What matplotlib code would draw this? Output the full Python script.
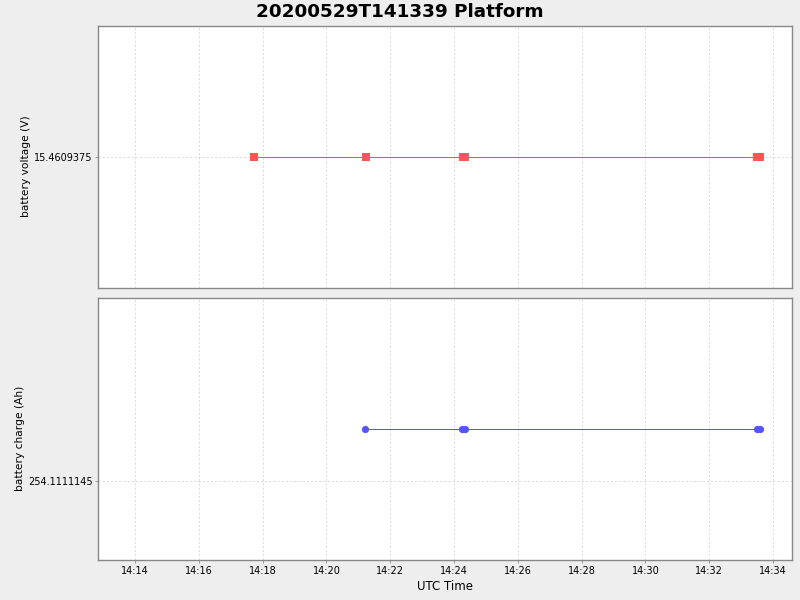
import matplotlib
matplotlib.use("Agg")
import matplotlib.pyplot as plt
import matplotlib.dates as mdates
from matplotlib.ticker import FixedLocator, FixedFormatter
from datetime import datetime

title = "20200529T141339 Platform"

voltage_times = ["14:17:44", "14:21:14", "14:24:17", "14:24:21", "14:33:30", "14:33:36"]
voltage_values = [15.4609375, 15.4609375, 15.4609375, 15.4609375, 15.4609375, 15.4609375]

charge_times = ["14:21:13", "14:24:15", "14:24:21", "14:33:30", "14:33:36"]
charge_values = [254.11111454, 254.11111454, 254.11111454, 254.11111454, 254.11111454]

voltage_ticks = [15.4609375]
voltage_tick_labels = ["15.4609375"]
charge_ticks = [254.1111145]
charge_tick_labels = ["254.1111145"]

x_tick_labels = ["14:14", "14:16", "14:18", "14:20", "14:22", "14:24", "14:26",
                 "14:28", "14:30", "14:32", "14:34"]
x_start, x_end = "14:12:50", "14:34:36"


def t(s):
    fmt = "%H:%M:%S" if s.count(":") == 2 else "%H:%M"
    tt = datetime.strptime(s, fmt)
    return datetime(2020, 5, 29, tt.hour, tt.minute, tt.second)


bg = "#EEEEEE"
fig = plt.figure(figsize=(8, 6), dpi=100, facecolor=bg)
ax1 = fig.add_axes([0.1225, 0.52, 0.8675, 0.4367])
ax2 = fig.add_axes([0.1225, 0.0667, 0.8675, 0.4367])

xt = [mdates.date2num(t(s)) for s in x_tick_labels]

for ax in (ax1, ax2):
    ax.set_facecolor("white")
    for sp in ax.spines.values():
        sp.set_color("#888888")
        sp.set_linewidth(1.0)
    ax.set_xlim(t(x_start), t(x_end))
    ax.xaxis.set_major_locator(FixedLocator(xt))
    ax.grid(True, color="#D4D4D4", linestyle=(0, (2.5, 2.5)), linewidth=0.6)
    ax.set_axisbelow(True)
    ax.tick_params(axis="both", length=2, width=0.6, color="#888888",
                   labelsize=7, pad=2)

ax1.xaxis.set_major_formatter(FixedFormatter([""] * len(xt)))
ax1.tick_params(axis="x", length=0)
ax2.xaxis.set_major_formatter(FixedFormatter(x_tick_labels))

vt = [t(s) for s in voltage_times]
ax1.plot(vt, voltage_values, color="#E05555", linewidth=0.7, zorder=2)
ax1.plot(vt, voltage_values, linestyle="none", marker="s", markersize=5.8,
         markerfacecolor="#FF5555", markeredgewidth=0, zorder=3)
v0 = voltage_values[0]
ax1.set_ylim(v0 - 1e-6, v0 + 1e-6)
ax1.yaxis.set_major_locator(FixedLocator(voltage_ticks))
ax1.yaxis.set_major_formatter(FixedFormatter(voltage_tick_labels))
ax1.set_ylabel("battery voltage (V)", fontsize=7.7, labelpad=2)
ax1.yaxis.label.set_y(0.466)

ct = [t(s) for s in charge_times]
ax2.plot(ct, charge_values, color="#5555E0", linewidth=0.7, zorder=2)
ax2.plot(ct, charge_values, linestyle="none", marker="o", markersize=5.2,
         markerfacecolor="#5555FF", markeredgewidth=0, zorder=3)
c0 = charge_values[0]
ax2.set_ylim(c0 - 1e-7, c0 + 1e-7)
ax2.yaxis.set_major_locator(FixedLocator(charge_ticks))
ax2.yaxis.set_major_formatter(FixedFormatter(charge_tick_labels))
ax2.set_ylabel("battery charge (Ah)", fontsize=7.7, labelpad=2)
ax2.yaxis.label.set_y(0.466)
ax2.set_xlabel("UTC Time", fontsize=8.5, labelpad=3)

fig.text(0.5, 0.98, title, ha="center", va="center", fontsize=13.2,
         fontweight="bold")

fig.savefig("out.png", dpi=100, facecolor=bg)
